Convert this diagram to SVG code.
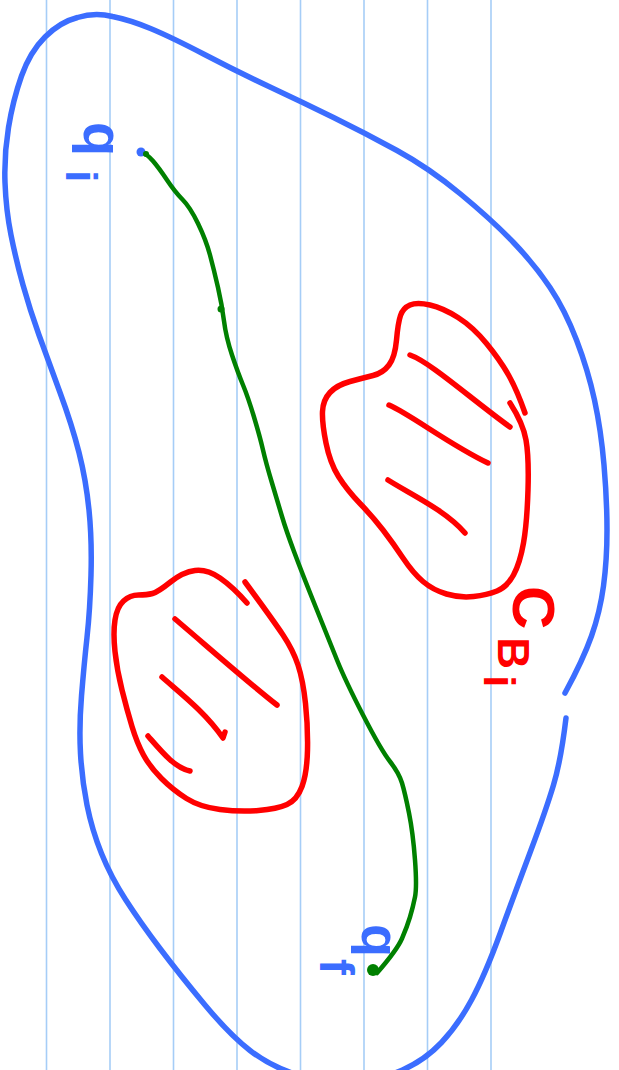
<svg xmlns="http://www.w3.org/2000/svg" width="619" height="1070" viewBox="0 0 619 1070">
<style>
.grid line{stroke:#a6cdf7;stroke-width:1.6}
.ink{fill:none;stroke-linecap:round;stroke-linejoin:round}
.blue{stroke:#3b6dff;stroke-width:5.5}
.red{stroke:#ff0000;stroke-width:5.5}
.green{stroke:#008000;stroke-width:4.5}
.lbl{font-family:"Liberation Sans",Arial,sans-serif;font-weight:bold}
</style>
<rect width="619" height="1070" fill="#ffffff"/>
<g id="grid" class="grid">
<line x1="46.5" y1="0" x2="46.5" y2="1070"/>
<line x1="110" y1="0" x2="110" y2="1070"/>
<line x1="173.5" y1="0" x2="173.5" y2="1070"/>
<line x1="237" y1="0" x2="237" y2="1070"/>
<line x1="300.5" y1="0" x2="300.5" y2="1070"/>
<line x1="364" y1="0" x2="364" y2="1070"/>
<line x1="427.5" y1="0" x2="427.5" y2="1070"/>
<line x1="491" y1="0" x2="491" y2="1070"/>
</g>
<g id="region">
<path class="ink blue" d="M565,693 Q583,660 591.5,636 Q600,612 603.5,586 Q607,560 607,530 Q607,500 604,465 Q601,430 594.5,400 Q588,370 576.5,340 Q565,310 550,287.5 Q535,265 513.5,242.5 Q492,220 460.5,194 Q429,168 397,150.5 Q365,133 333.5,117.5 Q302,102 270,87 Q238,72 204.5,54.5 Q171,37 150.5,28.5 Q130,20 112.5,16.5 Q95,12 77.5,17.5 Q60,22 45,37 Q30,52 21.5,76 Q13,100 8.5,127.5 Q4,155 5,182.5 Q6,210 11,235 Q16,260 23,285 Q30,310 39,335 Q48,360 60,392.5 Q72,425 79,452.5 Q86,480 89,510 Q92,540 91,575 Q90,610 87,637.5 Q84,665 81.5,696 Q79,727 80.5,753.5 Q82,780 87,805 Q92,830 101.5,853.5 Q111,877 125.5,899.5 Q140,922 160,948.5 Q180,975 205,1005 Q230,1035 250,1050.5 Q270,1066 295,1074 Q320,1082 350,1081 Q380,1080 402.5,1070 Q425,1060 441.5,1042.5 Q458,1025 471.5,1000 Q485,975 500.5,932.5 Q516,890 531,850 Q546,810 553.5,785 Q561,760 566,718"/>
</g>
<g id="obstacle-1">
<path class="ink red" d="M525,413 Q517,390 508.5,375 Q500,360 486.5,343.5 Q473,327 458,317.5 Q443,308 430,305 Q417,302 410,305 Q403,308 400.5,315.5 Q398,323 396.5,340 Q395,357 389,365 Q383,373 373,375.5 Q363,378 350,381.5 Q337,385 330,392.5 Q323,400 322.5,411.5 Q322,423 326,443 Q330,463 338.5,476.5 Q347,490 360,503.5 Q373,517 383,530 Q393,543 403,558 Q413,573 423,581.5 Q433,590 446.5,594 Q460,598 473.5,596.5 Q487,595 497,591 Q507,587 513.5,575 Q520,563 523.5,543 Q527,523 528,490 Q529,457 526,440 Q523,423 510,403"/>
<path class="ink red" d="M410,355 C430,362 470,398 510,427"/>
<path class="ink red" d="M389,405 C410,414 450,445 488,463"/>
<path class="ink red" d="M388,480 C410,494 445,510 465,533"/>
</g>
<g id="obstacle-2">
<path class="ink red" d="M247,603 Q233,587 220,578 Q207,569 195,570.5 Q183,572 170.5,582 Q158,592 152.5,593.5 Q147,595 138.5,595 Q130,595 123.5,601 Q117,607 115,620 Q113,633 115,651.5 Q117,670 122,690 Q127,710 132,726.5 Q137,743 143.5,755 Q150,767 161.5,778.5 Q173,790 186.5,798.5 Q200,807 220,809.5 Q240,812 258.5,810.5 Q277,809 287,804.5 Q297,800 302,786.5 Q307,773 307.5,750 Q308,727 305.5,703.5 Q303,680 298,665 Q293,650 283,635 Q273,620 245,582"/>
<path class="ink red" d="M175,619 C200,640 245,680 277,705"/>
<path class="ink red" d="M162,677 C180,693 205,712 223,738 l2,-6"/>
<path class="ink red" d="M148,736 C162,752 175,768 190,771"/>
</g>
<g id="connectors">
<path class="ink green" d="M140,151 Q147,154 153,161 Q159,168 167,180 Q175,192 182.5,199.5 Q190,207 198,223.5 Q206,240 210,255 Q214,270 218,287.5 Q222,305 224,321 Q226,337 232,355 Q238,373 243,385 Q248,397 254,417 Q260,437 263,450 Q266,463 272,483 Q278,503 282,516.5 Q286,530 294,551.5 Q302,573 315.5,606.5 Q329,640 337,660 Q345,680 363,715 Q381,750 390,761.5 Q399,773 402,783 Q405,793 409,813 Q413,833 415,860 Q417,887 415,897 Q413,907 410,917 Q407,927 402,938.5 Q397,950 377,973"/>
<circle cx="141" cy="152" r="4.5" fill="#3b6dff"/>
<circle cx="146" cy="154" r="3" fill="#008000"/>
<circle cx="221" cy="309" r="3.5" fill="#008000"/>
<circle cx="373" cy="970" r="6" fill="#008000"/>
</g>
<g id="labels" class="lbl">
<text transform="translate(84,122) rotate(90)" font-size="56" fill="#3b6dff">q<tspan font-size="44" dx="14" dy="18">i</tspan></text>
<text transform="translate(362,924) rotate(90)" font-size="54" fill="#3b6dff">q<tspan font-size="48" dx="2" dy="42">f</tspan></text>
<text transform="translate(513,586) rotate(90)" font-size="60" fill="#ff0000">C<tspan font-size="44" dx="8" dy="15">B</tspan><tspan font-size="44" dx="6" dy="14">i</tspan></text>
</g>
</svg>
